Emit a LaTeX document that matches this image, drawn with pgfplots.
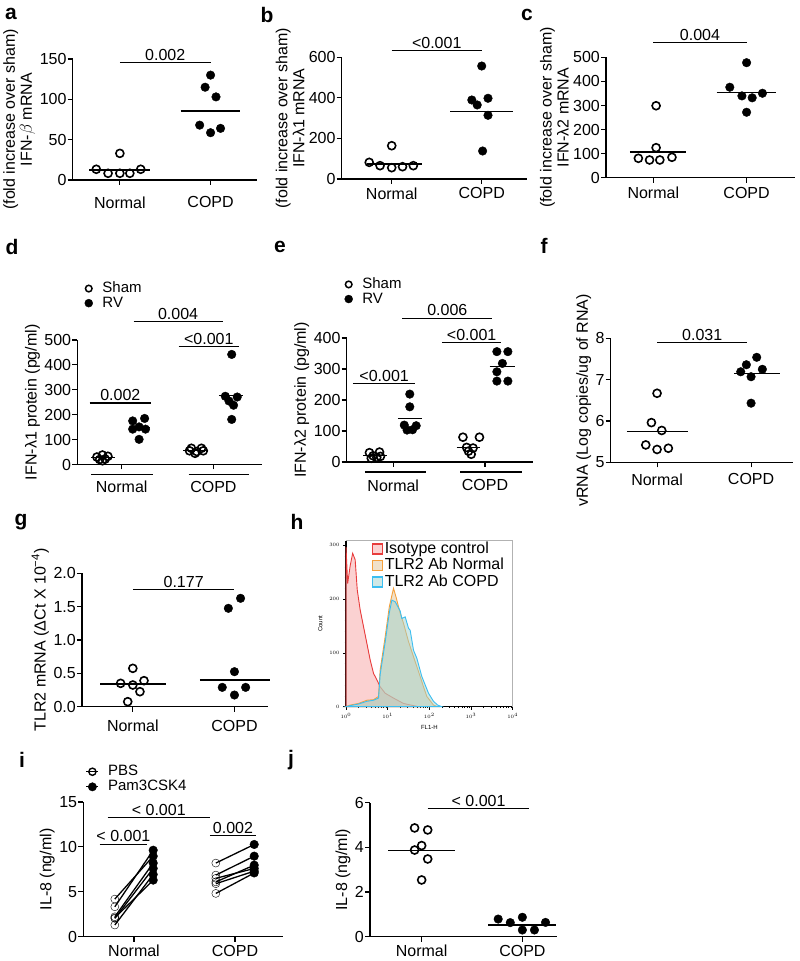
\documentclass[border=0pt]{standalone}
\usepackage{fontspec}
\setmainfont{Liberation Sans}
\usepackage{pgfplots}
\pgfplotsset{compat=1.18}
\newcommand{\fs}{\fontsize{16}{17}\selectfont}
\newcommand{\fl}{\fontsize{15}{16}\selectfont}
\newcommand{\fb}{\bfseries\fontsize{21}{24}\selectfont}
\definecolor{isored}{RGB}{232,60,60}
\definecolor{isofill}{RGB}{250,190,190}
\definecolor{orline}{RGB}{245,160,60}
\definecolor{orfill}{RGB}{225,195,150}
\definecolor{blline}{RGB}{60,190,240}
\definecolor{blfill}{RGB}{160,210,205}
\pgfplotsset{
 gp/.style={scale only axis, axis lines*=left, axis line style={line width=1.1pt,-},
  tick style={black, line width=1.1pt}, tick align=outside, major tick length=5pt,
  xtick={1,2}, xticklabels={Normal,COPD},
  tick label style={font=\fs}, yticklabel style={inner sep=1pt},
  label style={font=\fs}, ylabel style={align=center},
  clip=false, ymin=0, /pgf/number format/assume math mode=true,
  scaled y ticks=false, yticklabel style={/pgf/number format/fixed},
  anchor=south west},
 op/.style={only marks, mark=o, mark size=4pt, mark options={line width=1.6pt, black}},
 cl/.style={only marks, mark=*, mark size=4.3pt, black},
 ml/.style={black, line width=1.3pt, no markers, forget plot},
 lg/.style={legend style={draw=none, fill=none, font=\fl, inner sep=0pt, row sep=0.6pt,
   nodes={inner sep=0.5pt, text height=10.5pt, text depth=2.5pt}, legend cell align=left}},
}
\newcommand{\sig}[4]{\draw[line width=1.1pt] (axis cs:#1,#3) -- (axis cs:#2,#3) node[midway, above, font=\fs, inner sep=1.5pt] {#4};}
\begin{document}
\begin{tikzpicture}[x=1pt,y=1pt]
\useasboundingbox (0,0) rectangle (800,961);
% ---------- a ----------
\begin{axis}[gp, at={(72.7pt,781pt)}, width=184.3pt, height=121pt, xmin=0.48, xmax=2.512, ymax=150,
  xticklabel style={yshift=-8pt},
  ytick={0,50,100,150}, ylabel={(fold increase over sham)\\IFN-$\beta$ mRNA}]
\addplot[op] coordinates {(0.74,13.3) (0.87,8.3) (1.0,8.3) (1.11,8.3) (1.23,13.3) (1.0,33)};
\addplot[cl] coordinates {(2.0,130) (1.94,115) (2.06,103) (1.88,68) (2.11,64) (2.0,58.6)};
\addplot[ml] coordinates {(0.66,12.4) (1.33,12.4)};
\addplot[ml] coordinates {(1.67,85.5) (2.33,85.5)};
\sig{1}{2}{146}{0.002}
\end{axis}
% ---------- b ----------
\begin{axis}[gp, at={(341.7pt,782pt)}, width=185pt, height=121.7pt, xmin=0.444, xmax=2.5, ymax=600,
  xticklabel style={yshift=0pt},
  ytick={0,200,400,600}, ylabel={(fold increase over sham)\\IFN-λ1 mRNA}]
\addplot[op] coordinates {(0.75,82) (0.87,65.6) (1.0,55.7) (1.12,60.6) (1.24,65.6) (1.0,164)};
\addplot[cl] coordinates {(2.0,557) (1.89,389.5) (2.07,398) (1.95,365) (2.07,314) (2.01,138)};
\addplot[ml] coordinates {(0.72,74) (1.34,74)};
\addplot[ml] coordinates {(1.65,332) (2.35,332)};
\sig{1}{2}{632}{<0.001}
\end{axis}
% ---------- c ----------
\begin{axis}[gp, at={(606pt,783.3pt)}, width=189pt, height=120.3pt, xmin=0.493, xmax=2.519, ymax=500,
  xticklabel style={yshift=-1pt},
  ytick={0,100,200,300,400,500}, ylabel={(fold increase over sham)\\IFN-λ2 mRNA}]
\addplot[op] coordinates {(1.03,299) (1.03,124.7) (0.84,80.6) (0.96,73.6) (1.07,73.6) (1.2,84.8)};
\addplot[cl] coordinates {(2.0,478) (1.82,376) (1.95,340) (2.06,332) (2.17,351) (2.0,272)};
\addplot[ml] coordinates {(0.75,107) (1.35,107)};
\addplot[ml] coordinates {(1.68,353) (2.32,353)};
\sig{1}{2}{561}{0.004}
\end{axis}
% ---------- d ----------
\begin{axis}[gp, lg, at={(77.3pt,496.5pt)}, width=184.4pt, height=124.5pt, xmin=0.516, xmax=2.527, ymax=500,
  xticklabel style={yshift=-8pt},
  ytick={0,100,200,300,400,500}, ylabel={IFN-λ1 protein (pg/ml)},
  legend style={at={(axis description cs:0.022,1.471)}, anchor=north west}]
\addlegendimage{legend image code/.code={\path (0pt,0pt) (20pt,0pt); \draw[black, line width=1.5pt] (7pt,0pt) circle (3.3pt);}}\addlegendentry{Sham}
\addlegendimage{legend image code/.code={\path (0pt,0pt) (20pt,0pt); \fill[black] (7pt,0pt) circle (4pt);}}\addlegendentry{RV}
\addplot[op] coordinates {(0.73,30) (0.79,38) (0.85,33) (0.76,20) (0.82,22) (0.79,15)
  (1.76,65) (1.87,65) (1.74,55) (1.82,52) (1.89,55) (1.80,45)};
\addplot[cl] coordinates {(1.12,175) (1.25,185) (1.12,142) (1.26,142) (1.19,151) (1.19,101)
  (2.13,274) (2.26,271) (2.17,255) (2.22,238) (2.2,181) (2.2,442)};
\addplot[ml] coordinates {(0.67,27) (0.93,27)};
\addplot[ml] coordinates {(1.67,56) (1.93,56)};
\addplot[ml] coordinates {(1.11,149) (1.31,149)};
\addplot[ml] coordinates {(2.06,278) (2.32,278)};
\sig{0.65}{1.32}{247}{0.002}
\sig{1.62}{2.28}{475}{<0.001}
\sig{1.13}{2.10}{575}{0.004}
\draw[line width=1.1pt] ([yshift=-10pt]axis cs:0.67,0) -- ([yshift=-10pt]axis cs:1.34,0);
\draw[line width=1.1pt] ([yshift=-10pt]axis cs:1.73,0) -- ([yshift=-10pt]axis cs:2.39,0);
\end{axis}
% ---------- e ----------
\begin{axis}[gp, lg, at={(346.7pt,499pt)}, width=186.3pt, height=124pt, xmin=0.492, xmax=2.524, ymax=400,
  xticklabel style={yshift=-9pt},
  ytick={0,100,200,300,400}, ylabel={IFN-λ2 protein (pg/ml)},
  legend style={at={(axis description cs:-0.029,1.49)}, anchor=north west}]
\addlegendimage{legend image code/.code={\path (0pt,0pt) (20pt,0pt); \draw[black, line width=1.5pt] (7pt,0pt) circle (3.3pt);}}\addlegendentry{Sham}
\addlegendimage{legend image code/.code={\path (0pt,0pt) (20pt,0pt); \fill[black] (7pt,0pt) circle (4pt);}}\addlegendentry{RV}
\addplot[op] coordinates {(0.74,30) (0.85,32) (0.78,20) (0.82,15) (0.76,12) (0.86,18)
  (1.76,80) (1.94,80) (1.80,47) (1.87,45) (1.82,35) (1.85,25)};
\addplot[cl] coordinates {(1.18,219) (1.18,178) (1.12,119) (1.25,117) (1.15,103) (1.21,104)
  (2.13,356) (2.25,356) (2.19,318) (2.13,291) (2.13,261) (2.25,261)};
\addplot[ml] coordinates {(0.67,22) (0.93,22)};
\addplot[ml] coordinates {(1.69,47) (1.95,47)};
\addplot[ml] coordinates {(1.05,140) (1.31,140)};
\addplot[ml] coordinates {(2.05,307) (2.33,307)};
\sig{0.56}{1.24}{254}{<0.001}
\sig{1.53}{2.18}{385}{<0.001}
\sig{1.10}{2.08}{464}{0.006}
\draw[line width=1.1pt] ([yshift=-10pt]axis cs:0.69,0) -- ([yshift=-10pt]axis cs:1.36,0);
\draw[line width=1.1pt] ([yshift=-10pt]axis cs:1.73,0) -- ([yshift=-10pt]axis cs:2.40,0);
\end{axis}
% ---------- f ----------
\begin{axis}[gp, at={(610.7pt,498.7pt)}, width=182.3pt, height=124pt, xmin=0.507, xmax=2.446, ymin=5, ymax=8,
  xticklabel style={yshift=-3pt},
  ytick={5,6,7,8}, ylabel={vRNA (Log copies/ug of RNA)}]
\addplot[op] coordinates {(1.0,6.67) (0.94,5.96) (1.05,5.77) (0.88,5.42) (1.0,5.31) (1.12,5.34)};
\addplot[cl] coordinates {(2.06,7.54) (1.95,7.36) (1.89,7.19) (2.12,7.25) (2.0,7.07) (2.0,6.43)};
\addplot[ml] coordinates {(0.68,5.74) (1.33,5.74)};
\addplot[ml] coordinates {(1.82,7.14) (2.31,7.14)};
\sig{1}{1.96}{7.9}{0.031}
\end{axis}
% ---------- g ----------
\begin{axis}[gp, at={(82pt,254.3pt)}, width=186pt, height=133.4pt, xmin=0.50, xmax=2.33, ymax=2,
  xticklabel style={yshift=-5pt},
  ytick={0,0.5,1,1.5,2}, yticklabel style={/pgf/number format/.cd, fixed, fixed zerofill, precision=1},
  ylabel={TLR2 mRNA (ΔCt X 10\textsuperscript{−4})}]
\addplot[op] coordinates {(1.0,0.575) (0.88,0.35) (1.0,0.325) (1.11,0.39) (1.07,0.225) (0.95,0.075)};
\addplot[cl] coordinates {(2.06,1.625) (1.94,1.475) (2.0,0.525) (1.88,0.29) (2.11,0.29) (2.0,0.175)};
\addplot[ml] coordinates {(0.68,0.34) (1.33,0.34)};
\addplot[ml] coordinates {(1.66,0.40) (2.35,0.40)};
\sig{1}{2}{1.76}{0.177}
\end{axis}
% ---------- h ----------
\begin{axis}[scale only axis, anchor=south west, at={(346pt,254.3pt)}, width=166.7pt, height=166pt,
  xmode=log, xmin=1, xmax=10000, ymin=0, ymax=308.5, axis lines*=left, axis line style={line width=1.2pt,-},
  ytick={0,100,200,300}, minor y tick num=4, xtick={1,10,100,1000,10000},
  tick align=outside, major tick length=3pt, minor tick length=1.5pt, tick style={black, line width=0.5pt},
  tick label style={font=\fontsize{5}{6}\selectfont}, ylabel={Count}, xlabel={FL1-H},
  label style={font=\fontsize{6}{7}\selectfont}, clip=false,
  legend style={draw=none, fill=none, font=\fs, inner sep=0pt, row sep=1pt, legend cell align=left,
    nodes={inner sep=0.5pt, text height=11.5pt, text depth=3pt},
    at={(axis description cs:0.151,0.998)}, anchor=north west},
  legend image code/.code={\path (0pt,0pt) (12pt,0pt); \draw[#1, line width=1.2pt] (0.6pt,-5pt) rectangle (10.6pt,5pt);}]
\draw[gray!60, line width=1pt] (rel axis cs:0,1) -- (rel axis cs:1,1) -- (rel axis cs:1,0);
\addplot[draw=isored, line width=0.9pt, fill=isofill, fill opacity=0.7] coordinates {
 (1.000,0) (1.000,297) (1.096,229) (1.259,262) (1.445,285) (1.660,273) (1.862,217) (2.188,180)
 (2.630,149) (3.162,118) (3.802,87) (4.571,62) (5.495,50) (6.607,37) (8.710,25) (13.80,16)
 (23.99,6) (41.69,2) (54.95,0)} \closedcycle;
\addlegendentry{Isotype control}
\addplot[draw=orline, line width=0.9pt, fill=orfill, fill opacity=0.5] coordinates {
 (1,0) (1.259,3) (1.995,6) (3.162,12) (4.571,13) (6.026,19) (6.607,68) (8.710,130) (10.96,186)
 (13.80,220) (15.85,204) (19.95,174) (23.99,155) (31.62,121) (41.69,93) (60.26,56) (72.44,37)
 (87.10,19) (125.9,3) (158.5,0)} \closedcycle;
\addlegendentry{TLR2 Ab Normal}
\addplot[draw=blline, line width=0.9pt, fill=blfill, fill opacity=0.5] coordinates {
 (1,0) (1.259,2) (1.995,5) (3.162,10) (4.571,12) (6.026,16) (6.607,60) (8.710,120) (10.96,175)
 (12.59,198) (15.14,195) (19.95,178) (21.88,164) (26.30,167) (31.62,146) (34.67,142) (41.69,105)
 (50.12,90) (66.07,56) (95.50,25) (125.9,10) (158.5,3) (199.5,0)} \closedcycle;
\addlegendentry{TLR2 Ab COPD}
\end{axis}
% ---------- i ----------
\begin{axis}[gp, lg, at={(83.3pt,24.3pt)}, width=199.7pt, height=134.7pt, xmin=0.498, xmax=2.475, ymax=15,
  xticklabel style={yshift=0pt},
  ytick={0,5,10,15}, ylabel={IL-8 (ng/ml)},
  legend style={at={(axis description cs:0.012,1.278)}, anchor=north west, row sep=1.1pt}]
\addlegendimage{legend image code/.code={\path (0pt,0pt) (21pt,0pt); \draw[black, line width=1pt] (0pt,0pt) -- (12pt,0pt); \draw[black, line width=1.4pt] (6pt,0pt) circle (3.6pt);}}
\addlegendentry{PBS}
\addlegendimage{legend image code/.code={\path (0pt,0pt) (21pt,0pt); \draw[black, line width=1pt] (0pt,0pt) -- (12pt,0pt); \fill[black] (6pt,0pt) circle (4.2pt);}}
\addlegendentry{Pam3CSK4}
\addplot[ml] coordinates {(0.81,4.19) (1.19,8.97)};
\addplot[ml] coordinates {(0.81,3.33) (1.19,9.63)};
\addplot[ml] coordinates {(0.81,2.22) (1.19,8.2)};
\addplot[ml] coordinates {(0.81,2.04) (1.19,7.6)};
\addplot[ml] coordinates {(0.81,1.3) (1.19,6.93)};
\addplot[ml] coordinates {(0.81,2.1) (1.19,6.3)};
\addplot[ml] coordinates {(1.81,8.2) (2.19,10.27)};
\addplot[ml] coordinates {(1.81,6.86) (2.19,8.97)};
\addplot[ml] coordinates {(1.81,6.5) (2.19,7.6)};
\addplot[ml] coordinates {(1.81,6.1) (2.19,7.97)};
\addplot[ml] coordinates {(1.81,5.9) (2.19,7.3)};
\addplot[ml] coordinates {(1.81,4.82) (2.19,7.1)};
\addplot[op, mark options={fill=white}] coordinates {(0.81,4.19) (0.81,3.33) (0.81,2.22) (0.81,2.04) (0.81,1.3) (0.81,2.1)
  (1.81,8.2) (1.81,6.86) (1.81,6.5) (1.81,6.1) (1.81,5.9) (1.81,4.82)};
\addplot[cl] coordinates {(1.19,8.97) (1.19,9.63) (1.19,8.2) (1.19,7.6) (1.19,6.93) (1.19,6.3)
  (2.19,10.27) (2.19,8.97) (2.19,7.6) (2.19,7.97) (2.19,7.3) (2.19,7.1)};
\sig{0.66}{1.13}{10.3}{< 0.001}
\sig{0.74}{1.75}{13.3}{< 0.001}
\sig{1.75}{2.21}{11.3}{0.002}
\end{axis}
% ---------- j ----------
\begin{axis}[gp, at={(370pt,24.3pt)}, width=187pt, height=134pt, xmin=0.487, xmax=2.344, ymax=6,
  xticklabel style={yshift=0pt},
  ytick={0,2,4,6}, ylabel={IL-8 (ng/ml)}]
\addplot[op] coordinates {(0.93,4.87) (1.06,4.78) (1.0,4.08) (0.93,3.88) (1.06,3.48) (1.0,2.54)};
\addplot[cl] coordinates {(1.76,0.79) (1.88,0.63) (2.0,0.87) (2.0,0.30) (2.12,0.30) (2.23,0.64)};
\addplot[ml] coordinates {(0.67,3.86) (1.33,3.86)};
\addplot[ml] coordinates {(1.66,0.52) (2.33,0.52)};
\sig{1.06}{2.07}{5.75}{< 0.001}
\end{axis}
% ---------- panel letters ----------
\node[font=\fb] at (11,947) {a};
\node[font=\fb] at (267,946) {b};
\node[font=\fb] at (527,946) {c};
\node[font=\fb] at (12,714) {d};
\node[font=\fb] at (280,714) {e};
\node[font=\fb] at (544,715) {f};
\node[font=\fb] at (21,439) {g};
\node[font=\fb] at (297,439) {h};
\node[font=\fb] at (22,201) {i};
\node[font=\fb] at (291,201) {j};
\end{tikzpicture}
\end{document}
